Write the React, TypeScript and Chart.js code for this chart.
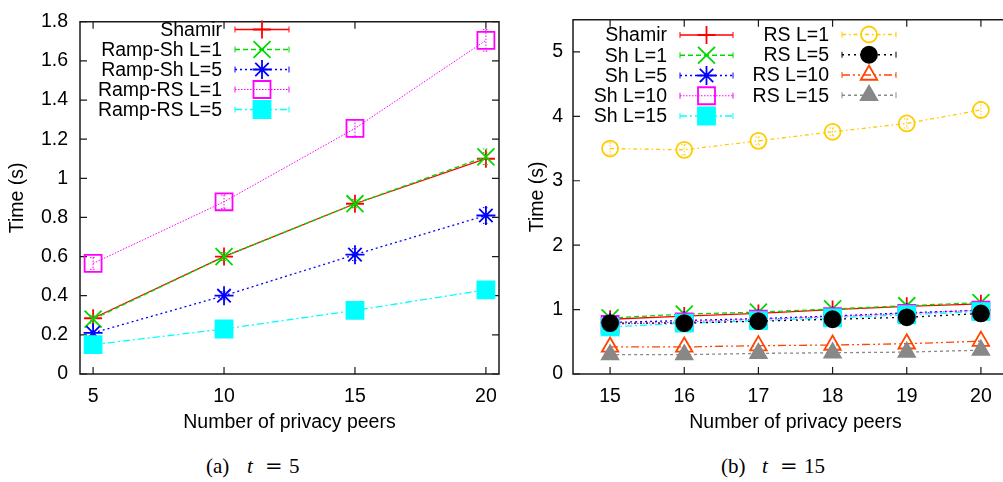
import React, { useEffect, useRef } from 'react';
import { Chart, registerables } from 'chart.js';
import { drawPoint } from 'chart.js/helpers';

Chart.register(...registerables);

const FONT_FAMILY = '"Liberation Sans", Arial, Helvetica, sans-serif';
const FONT_SIZE = 19.5;

// ---------- (a) t = 5 ----------
const peersA = [5, 10, 15, 20];
const xTicksA = [5, 10, 15, 20];
const yTicksA = [0, 0.2, 0.4, 0.6, 0.8, 1, 1.2, 1.4, 1.6, 1.8];
const labelsA = ['Shamir', 'Ramp-Sh L=1', 'Ramp-Sh L=5', 'Ramp-RS L=1', 'Ramp-RS L=5'];
const shamirA = [0.285, 0.6, 0.87, 1.1];
const rampShL1A = [0.28, 0.6, 0.87, 1.11];
const rampShL5A = [0.21, 0.4, 0.61, 0.81];
const rampRsL1A = [0.565, 0.88, 1.255, 1.705];
const rampRsL5A = [0.15, 0.23, 0.325, 0.43];
const shamirErrA = [0.01, 0.02, 0.02, 0.03];
const rampShL1ErrA = [0.02, 0.02, 0.02, 0.04];
const rampShL5ErrA = [0.01, 0.02, 0.03, 0.04];
const rampRsL1ErrA = [0.03, 0.035, 0.045, 0.055];
const rampRsL5ErrA = [0.01, 0.01, 0.01, 0.02];

// ---------- (b) t = 15 ----------
const peersB = [15, 16, 17, 18, 19, 20];
const xTicksB = [15, 16, 17, 18, 19, 20];
const yTicksB = [0, 1, 2, 3, 4, 5];
const labelsB = ['Shamir', 'Sh L=1', 'Sh L=5', 'Sh L=10', 'Sh L=15', 'RS L=1', 'RS L=5', 'RS L=10', 'RS L=15'];
const shamirB = [0.85, 0.9, 0.94, 1.0, 1.05, 1.09];
const shL1B = [0.87, 0.93, 0.96, 1.01, 1.06, 1.11];
const shL5B = [0.8, 0.83, 0.86, 0.9, 0.95, 0.99];
const shL10B = [0.77, 0.81, 0.85, 0.89, 0.94, 0.99];
const shL15B = [0.73, 0.79, 0.83, 0.87, 0.92, 0.97];
const rsL1B = [3.5, 3.48, 3.62, 3.76, 3.89, 4.1];
const rsL5B = [0.79, 0.79, 0.82, 0.85, 0.88, 0.94];
const rsL10B = [0.42, 0.42, 0.44, 0.45, 0.47, 0.51];
const rsL15B = [0.3, 0.3, 0.32, 0.33, 0.34, 0.37];
const rsL1ErrB = [0.1, 0.08, 0.06, 0.06, 0.07, 0.13];

// ---------- styles ----------
type Style = { color: string; dash: number[]; point: string; radius: number; filled: boolean; width?: number };
const S_RED: Style = { color: '#ff0000', dash: [], point: 'cross', radius: 9, filled: false };
const S_GREEN: Style = { color: '#00d800', dash: [5, 3], point: 'crossRot', radius: 12, filled: false };
const S_BLUE: Style = { color: '#0000ff', dash: [2, 3], point: 'star', radius: 9.5, filled: false };
const S_MAGENTA: Style = { color: '#ff00ff', dash: [1.5, 1.5], point: 'rect', radius: 12, filled: false, width: 1 };
const S_CYAN: Style = { color: '#00ffff', dash: [7, 3, 2, 3], point: 'rect', radius: 12, filled: true };
const S_GOLD: Style = { color: '#ffcc00', dash: [4, 3, 1.5, 3], point: 'circle', radius: 8, filled: false };
const S_BLACK: Style = { color: '#000000', dash: [2, 4], point: 'circle', radius: 8, filled: true };
const S_ORANGE: Style = { color: '#ff4500', dash: [8, 3, 2, 3, 2, 3], point: 'triangle', radius: 9.5, filled: false };
const S_GRAY: Style = { color: '#888888', dash: [3, 3], point: 'triangle', radius: 9.5, filled: true };

function series(label: string, xs: number[], ys: number[], style: Style, errors: number[] | null, idx: number, n: number) {
  return {
    label,
    data: xs.map((x, i) => ({ x, y: ys[i] })),
    errors,
    borderColor: style.color,
    backgroundColor: style.color,
    borderWidth: style.width ?? 1.3,
    borderDash: style.dash,
    pointStyle: style.point,
    pointRadius: style.radius,
    pointBorderWidth: 1.8,
    pointBorderColor: style.color,
    pointBackgroundColor: style.filled ? style.color : 'rgba(0,0,0,0)',
    tension: 0,
    fill: false,
    order: n - idx,
  };
}

type LegendCol = { labelRight: number; x0: number; x1: number; y0: number; step: number; count: number };

function makePlugin(xTicks: number[], yTicks: number[], cols: LegendCol[]) {
  return {
    id: 'gnuplotLook',
    beforeDatasetsDraw(chart: any) {
      const { ctx, chartArea: a, scales } = chart;
      ctx.save();
      ctx.strokeStyle = '#1a1a1a';
      ctx.lineWidth = 1.5;
      ctx.setLineDash([]);
      ctx.strokeRect(a.left, a.top, a.right - a.left, a.bottom - a.top);
      ctx.lineWidth = 1.2;
      const L = 7;
      ctx.beginPath();
      xTicks.forEach((v) => {
        const x = scales.x.getPixelForValue(v);
        ctx.moveTo(x, a.bottom); ctx.lineTo(x, a.bottom - L);
        ctx.moveTo(x, a.top); ctx.lineTo(x, a.top + L);
      });
      yTicks.forEach((v) => {
        const y = scales.y.getPixelForValue(v);
        ctx.moveTo(a.left, y); ctx.lineTo(a.left + L, y);
        ctx.moveTo(a.right, y); ctx.lineTo(a.right - L, y);
      });
      ctx.stroke();
      ctx.restore();
    },
    afterDatasetDraw(chart: any, args: any) {
      const ds = chart.data.datasets[args.index];
      const errs: number[] | null = ds.errors;
      if (!errs) return;
      const { ctx, scales } = chart;
      ctx.save();
      ctx.strokeStyle = ds.borderColor;
      ctx.lineWidth = 1;
      ctx.setLineDash([1.5, 1.5]);
      ds.data.forEach((p: any, i: number) => {
        const e = errs[i];
        const x = scales.x.getPixelForValue(p.x);
        const yt = scales.y.getPixelForValue(p.y + e);
        const yb = scales.y.getPixelForValue(p.y - e);
        ctx.beginPath();
        ctx.moveTo(x, yt); ctx.lineTo(x, yb);
        ctx.moveTo(x - 3, yt); ctx.lineTo(x + 3, yt);
        ctx.moveTo(x - 3, yb); ctx.lineTo(x + 3, yb);
        ctx.stroke();
      });
      ctx.restore();
    },
    afterDatasetsDraw(chart: any) {
      const { ctx } = chart;
      const datasets = chart.data.datasets;
      let k = 0;
      cols.forEach((c) => {
        for (let r = 0; r < c.count; r++, k++) {
          const ds = datasets[k];
          if (!ds) continue;
          const y = c.y0 + r * c.step;
          ctx.save();
          ctx.fillStyle = '#000';
          ctx.font = `${FONT_SIZE}px ${FONT_FAMILY}`;
          ctx.textAlign = 'right';
          ctx.textBaseline = 'middle';
          ctx.fillText(ds.label, c.labelRight, y + 1);
          ctx.strokeStyle = ds.borderColor;
          ctx.lineWidth = ds.borderWidth;
          ctx.setLineDash(ds.borderDash);
          ctx.beginPath();
          ctx.moveTo(c.x0, y); ctx.lineTo(c.x1, y);
          ctx.stroke();
          ctx.setLineDash([]);
          ctx.lineWidth = 1;
          ctx.beginPath();
          ctx.moveTo(c.x0, y - 3); ctx.lineTo(c.x0, y + 3);
          ctx.moveTo(c.x1, y - 3); ctx.lineTo(c.x1, y + 3);
          ctx.stroke();
          ctx.fillStyle = ds.pointBackgroundColor;
          ctx.strokeStyle = ds.pointBorderColor;
          ctx.lineWidth = ds.pointBorderWidth;
          drawPoint(ctx, { pointStyle: ds.pointStyle, radius: ds.pointRadius, rotation: 0, borderWidth: ds.pointBorderWidth } as any, (c.x0 + c.x1) / 2, y);
          ctx.restore();
        }
      });
    },
  };
}

const tickFont = { family: FONT_FAMILY, size: FONT_SIZE, lineHeight: 1 };
const titleFont = { family: FONT_FAMILY, size: FONT_SIZE, lineHeight: 1.2 };

function buildConfig(opts: {
  datasets: any[]; xMin: number; xMax: number; yMin: number; yMax: number;
  xTicks: number[]; yTicks: number[]; yAxisWidth: number; yTickPad: number; yTitlePad: number;
  padTop: number; padRight: number; cols: LegendCol[];
}) {
  return {
    type: 'line',
    data: { datasets: opts.datasets },
    plugins: [makePlugin(opts.xTicks, opts.yTicks, opts.cols)],
    options: {
      animation: false,
      responsive: false,
      events: [],
      layout: { padding: { top: opts.padTop, right: opts.padRight, left: 0, bottom: 0 } },
      plugins: { legend: { display: false }, tooltip: { enabled: false } },
      scales: {
        x: {
          type: 'linear', min: opts.xMin, max: opts.xMax,
          afterBuildTicks: (s: any) => { s.ticks = opts.xTicks.map((v) => ({ value: v })); },
          afterFit: (s: any) => { s.height = 66; },
          grid: { display: false, drawTicks: false },
          border: { display: false },
          ticks: { font: tickFont, color: '#000', padding: 13, maxRotation: 0, autoSkip: false, callback: (v: any) => String(v) },
          title: { display: true, text: 'Number of privacy peers', font: titleFont, color: '#000', padding: { top: 0, bottom: 6 } },
        },
        y: {
          type: 'linear', min: opts.yMin, max: opts.yMax,
          afterBuildTicks: (s: any) => { s.ticks = opts.yTicks.map((v) => ({ value: v })); },
          afterFit: (s: any) => { s.width = opts.yAxisWidth; },
          grid: { display: false, drawTicks: false },
          border: { display: false },
          ticks: { font: tickFont, color: '#000', padding: opts.yTickPad, autoSkip: false, callback: (v: any) => String(v) },
          title: { display: true, text: 'Time (s)', font: titleFont, color: '#000', padding: { top: opts.yTitlePad, bottom: 0 } },
        },
      },
    },
  } as any;
}

function ChartCanvas({ config, left }: { config: () => any; left: number }) {
  const ref = useRef<HTMLCanvasElement | null>(null);
  useEffect(() => {
    if (!ref.current) return;
    const chart = new Chart(ref.current, config());
    return () => chart.destroy();
  }, []);
  return (
    <canvas ref={ref} width={520} height={440}
      style={{ position: 'absolute', left, top: 0, width: 520, height: 440 }} />
  );
}

const configA = () => {
  const n = 5;
  return buildConfig({
    datasets: [
      series(labelsA[0], peersA, shamirA, S_RED, shamirErrA, 0, n),
      series(labelsA[1], peersA, rampShL1A, S_GREEN, rampShL1ErrA, 1, n),
      series(labelsA[2], peersA, rampShL5A, S_BLUE, rampShL5ErrA, 2, n),
      series(labelsA[3], peersA, rampRsL1A, S_MAGENTA, rampRsL1ErrA, 3, n),
      series(labelsA[4], peersA, rampRsL5A, S_CYAN, rampRsL5ErrA, 4, n),
    ],
    xMin: 4.5, xMax: 20.5, yMin: 0, yMax: 1.8,
    xTicks: xTicksA, yTicks: yTicksA, yAxisWidth: 80, yTickPad: 12, yTitlePad: 6,
    padTop: 14, padRight: 21,
    cols: [{ labelRight: 222, x0: 235, x1: 289, y0: 29.5, step: 20, count: 5 }],
  });
};

const configB = () => {
  const n = 9;
  return buildConfig({
    datasets: [
      series(labelsB[0], peersB, shamirB, S_RED, null, 0, n),
      series(labelsB[1], peersB, shL1B, S_GREEN, null, 1, n),
      series(labelsB[2], peersB, shL5B, S_BLUE, null, 2, n),
      series(labelsB[3], peersB, shL10B, S_MAGENTA, null, 3, n),
      series(labelsB[4], peersB, shL15B, S_CYAN, null, 4, n),
      series(labelsB[5], peersB, rsL1B, S_GOLD, rsL1ErrB, 5, n),
      series(labelsB[6], peersB, rsL5B, S_BLACK, null, 6, n),
      series(labelsB[7], peersB, rsL10B, S_ORANGE, null, 7, n),
      series(labelsB[8], peersB, rsL15B, S_GRAY, null, 8, n),
    ],
    xMin: 14.5, xMax: 20.5, yMin: 0, yMax: 5.5,
    xTicks: xTicksB, yTicks: yTicksB, yAxisWidth: 53, yTickPad: 10, yTitlePad: 6,
    padTop: 11, padRight: 22,
    cols: [
      { labelRight: 147, x0: 160, x1: 213, y0: 35, step: 20.25, count: 5 },
      { labelRight: 309, x0: 322, x1: 376, y0: 34.5, step: 20.25, count: 4 },
    ],
  });
};

const capBase: React.CSSProperties = {
  position: 'absolute', top: 454, height: 24, lineHeight: '24px', fontSize: 21,
  fontFamily: '"Liberation Serif", "Times New Roman", serif', color: '#000', whiteSpace: 'nowrap',
};
const eqFont = '"DejaVu Serif", serif';

export default function App() {
  return (
    <div style={{ position: 'fixed', left: 0, top: 0, width: 1003, height: 482, overflow: 'hidden', background: '#fff' }}>
      <ChartCanvas config={configA} left={0} />
      <ChartCanvas config={configB} left={520} />
      <span style={{ ...capBase, left: 206 }}>(a)</span>
      <span style={{ ...capBase, left: 247, fontStyle: 'italic' }}>t</span>
      <span style={{ ...capBase, left: 265, fontFamily: eqFont }}>=</span>
      <span style={{ ...capBase, left: 289 }}>5</span>
      <span style={{ ...capBase, left: 721 }}>(b)</span>
      <span style={{ ...capBase, left: 762, fontStyle: 'italic' }}>t</span>
      <span style={{ ...capBase, left: 780, fontFamily: eqFont }}>=</span>
      <span style={{ ...capBase, left: 804 }}>15</span>
    </div>
  );
}
